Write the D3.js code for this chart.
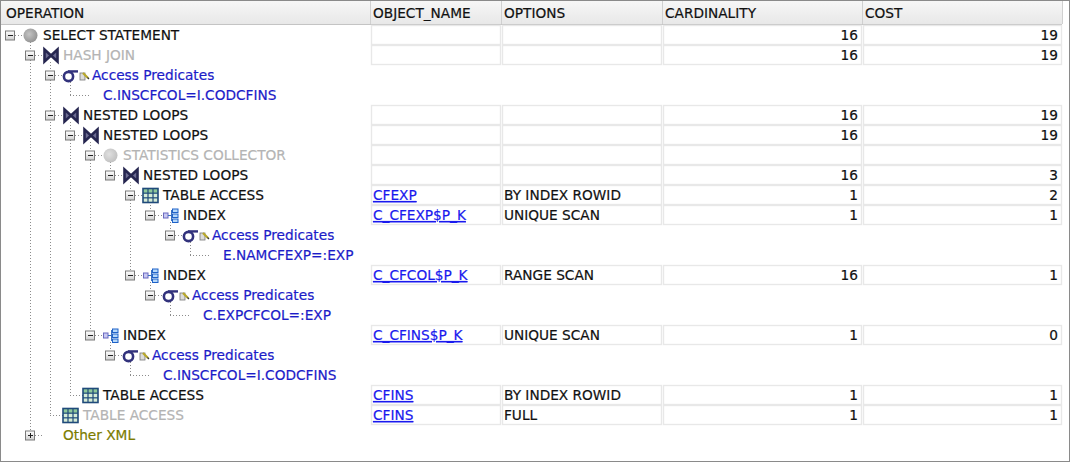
<!DOCTYPE html>
<html>
<head>
<meta charset="utf-8">
<script src="https://cdn.jsdelivr.net/npm/d3@7/dist/d3.min.js"></script>
<style>
  body { margin: 0; background: #fff; }
  svg text { font-family: "DejaVu Sans", sans-serif; font-size: 13.7px; stroke-width: 0.2px; }
</style>
</head>
<body>
<script>
// plan rows, top to bottom
var operations = ["SELECT STATEMENT", "HASH JOIN", "Access Predicates", "C.INSCFCOL=I.CODCFINS",
    "NESTED LOOPS", "NESTED LOOPS", "STATISTICS COLLECTOR", "NESTED LOOPS", "TABLE ACCESS", "INDEX",
    "Access Predicates", "E.NAMCFEXP=:EXP", "INDEX", "Access Predicates", "C.EXPCFCOL=:EXP",
    "INDEX", "Access Predicates", "C.INSCFCOL=I.CODCFINS", "TABLE ACCESS", "TABLE ACCESS", "Other XML"];
var levels = [0, 1, 2, 3, 2, 3, 4, 5, 6, 7, 8, 9, 6, 7, 8, 4, 5, 6, 3, 2, 1];
// icon kind per row
var icons = ["circle", "join", "sigma", "none", "join", "join", "circle", "join", "table", "index",
    "sigma", "none", "index", "sigma", "none", "index", "sigma", "none", "table", "table", "none"];
// text style per row
var styles = ["plain", "off", "pred", "pred", "plain", "plain", "off", "plain", "plain", "plain",
    "pred", "pred", "plain", "pred", "pred", "plain", "pred", "pred", "plain", "off", "xml"];
// null = row without table cells
var objectNames = ["", "", null, null, "", "", "", "", "CFEXP", "C_CFEXP$P_K", null, null, "C_CFCOL$P_K",
    null, null, "C_CFINS$P_K", null, null, "CFINS", "CFINS", null];
var optionValues = ["", "", null, null, "", "", "", "", "BY INDEX ROWID", "UNIQUE SCAN", null, null, "RANGE SCAN",
    null, null, "UNIQUE SCAN", null, null, "BY INDEX ROWID", "FULL", null];
var cardinality = [16, 16, null, null, 16, 16, "", 16, 1, 1, null, null, 16, null, null, 1, null, null, 1, 1, null];
var cost = [19, 19, null, null, 19, 19, "", 3, 2, 1, null, null, 1, null, null, 0, null, null, 1, 1, null];
var headers = ["OPERATION", "OBJECT_NAME", "OPTIONS", "CARDINALITY", "COST"];

var w = 1071, h = 463;
var colEdges = [0, 370, 501, 662, 862, 1062];
var n = operations.length;

var svg = d3.select("body").append("svg").attr("width", w).attr("height", h);
var defs = svg.append("defs");

var hg = defs.append("linearGradient").attr("id", "hdr").attr("x1", 0).attr("y1", 0).attr("x2", 0).attr("y2", 1);
hg.append("stop").attr("offset", "0").attr("stop-color", "#f7f7f7");
hg.append("stop").attr("offset", "1").attr("stop-color", "#e8e8e8");

var tg = defs.append("linearGradient").attr("id", "tog").attr("x1", 0).attr("y1", 0).attr("x2", 0).attr("y2", 1);
tg.append("stop").attr("offset", "0").attr("stop-color", "#ffffff");
tg.append("stop").attr("offset", "1").attr("stop-color", "#cfcfcf");

var cg = defs.append("radialGradient").attr("id", "ball").attr("cx", "0.4").attr("cy", "0.4").attr("r", "0.6");
cg.append("stop").attr("offset", "0").attr("stop-color", "#c4c4c4");
cg.append("stop").attr("offset", "1").attr("stop-color", "#959595");
var cg2 = defs.append("radialGradient").attr("id", "ballOff").attr("cx", "0.4").attr("cy", "0.4").attr("r", "0.6");
cg2.append("stop").attr("offset", "0").attr("stop-color", "#e0e0e0");
cg2.append("stop").attr("offset", "1").attr("stop-color", "#c2c2c2");

// scales
var yScale = d3.scaleBand().domain(d3.range(n)).range([25, 25 + n * 20]);
var indent = d3.scaleLinear().domain([0, 1]).range([10, 30]);
function cy(i) { return yScale(i) + yScale.bandwidth() / 2; }

// header
svg.append("rect").attr("x", 0).attr("y", 0).attr("width", colEdges[5]).attr("height", 24).attr("fill", "url(#hdr)");
svg.append("line").attr("x1", 0).attr("x2", colEdges[5]).attr("y1", 24.5).attr("y2", 24.5).attr("stroke", "#c4c4c4");
svg.selectAll(".hsep").data(colEdges.slice(1)).enter().append("line")
    .attr("x1", function (d) { return d + 0.5; }).attr("x2", function (d) { return d + 0.5; })
    .attr("y1", 1).attr("y2", 24).attr("stroke", "#d0d0d0");
svg.selectAll(".htext").data(headers).enter().append("text")
    .attr("x", function (d, i) { return colEdges[i] + (i === 0 ? 6 : 3); })
    .attr("y", 18).attr("fill", "#111").attr("stroke", "#111").text(function (d) { return d; });

// table cells
var cols = [objectNames, optionValues, cardinality, cost];
cols.forEach(function (vals, c) {
    var x0 = colEdges[c + 1], x1 = colEdges[c + 2];
    var g = svg.append("g");
    d3.range(n).forEach(function (i) {
        if (vals[i] === null) return;
        g.append("rect").attr("x", x0 + 1.5).attr("y", yScale(i) + 0.5)
            .attr("width", x1 - x0 - 2).attr("height", 19)
            .attr("fill", "#fff").attr("stroke", "#e8e8e8").attr("stroke-width", 1.4);
        if (vals[i] === "") return;
        var col = c === 0 ? "#1a1aee" : "#111";
        var t = g.append("text").attr("y", cy(i) + 5).attr("fill", col).attr("stroke", col).text(vals[i]);
        if (c < 2) {
            t.attr("x", x0 + 3);
            if (c === 0) t.style("text-decoration", "underline");
        } else {
            t.attr("x", x1 - 4).attr("text-anchor", "end");
        }
    });
});

// tree lines
var tree = svg.append("g").attr("stroke", "#8c8c8c").attr("stroke-dasharray", "1,2").attr("fill", "none");
d3.range(n).forEach(function (p) {
    var last = -1;
    for (var j = p + 1; j < n && levels[j] > levels[p]; j++) {
        if (levels[j] === levels[p] + 1) last = j;
    }
    if (last < 0) return;
    var x = indent(levels[p] + 1) + 0.5;
    tree.append("line").attr("x1", x).attr("x2", x).attr("y1", cy(p) + 7).attr("y2", cy(last));
});
var hasKids = d3.range(n).map(function (i) { return i + 1 < n && levels[i + 1] > levels[i] || styles[i] === "xml"; });
d3.range(n).forEach(function (i) {
    var tx = indent(levels[i]);
    var xs = hasKids[i] ? tx + 5 : tx;
    var xe = icons[i] === "none" ? tx + (hasKids[i] ? 13 : 20) : tx + 13;
    tree.append("line").attr("x1", xs).attr("x2", xe).attr("y1", cy(i) + 0.5).attr("y2", cy(i) + 0.5);
});

// toggles
d3.range(n).filter(function (i) { return hasKids[i]; }).forEach(function (i) {
    var tx = indent(levels[i]), y = cy(i);
    var g = svg.append("g");
    g.append("rect").attr("x", tx - 4.5).attr("y", y - 4).attr("width", 9).attr("height", 9)
        .attr("fill", "url(#tog)").attr("stroke", "#7a7a7a");
    g.append("line").attr("x1", tx - 2).attr("x2", tx + 3).attr("y1", y + 0.5).attr("y2", y + 0.5).attr("stroke", "#222");
    if (styles[i] === "xml") {
        g.append("line").attr("x1", tx + 0.5).attr("x2", tx + 0.5).attr("y1", y - 2).attr("y2", y + 3).attr("stroke", "#222");
    }
});

// icons
d3.range(n).forEach(function (i) {
    var tx = indent(levels[i]), y = cy(i), ix = tx + 13;
    var g = svg.append("g");
    if (icons[i] === "circle") {
        g.append("circle").attr("cx", tx + 20.5).attr("cy", y + 0.5).attr("r", 7)
            .attr("fill", styles[i] === "off" ? "url(#ballOff)" : "url(#ball)");
    } else if (icons[i] === "join") {
        g.append("path")
            .attr("d", "M" + (ix + 1.5) + "," + (y - 5.5) + "L" + (ix + 1.5) + "," + (y + 6.5) + "L" + (ix + 14.5) + "," + (y - 5.5) +
                "L" + (ix + 14.5) + "," + (y + 6.5) + "Z")
            .attr("fill", "#6c6c92").attr("stroke", "#262650").attr("stroke-width", 2.6).attr("stroke-linejoin", "miter");
    } else if (icons[i] === "table") {
        var tw = 15, th = 14, x0 = ix, y0 = y - 6.5;
        g.append("rect").attr("x", x0).attr("y", y0).attr("width", tw).attr("height", th).attr("fill", "#d6ecd6");
        g.append("rect").attr("x", x0).attr("y", y0).attr("width", tw).attr("height", th / 3).attr("fill", "#8fc89b");
        [1, 2].forEach(function (k) {
            g.append("line").attr("x1", x0).attr("x2", x0 + tw).attr("y1", y0 + k * th / 3).attr("y2", y0 + k * th / 3)
                .attr("stroke", "#1f4a7a").attr("stroke-width", 1.2);
            g.append("line").attr("y1", y0).attr("y2", y0 + th).attr("x1", x0 + k * tw / 3).attr("x2", x0 + k * tw / 3)
                .attr("stroke", "#1f4a7a").attr("stroke-width", 1.2);
        });
        g.append("rect").attr("x", x0).attr("y", y0).attr("width", tw).attr("height", th)
            .attr("fill", "none").attr("stroke", "#1f4a7a").attr("stroke-width", 1.6);
    } else if (icons[i] === "index") {
        g.append("rect").attr("x", ix + 0.5).attr("y", y - 2).attr("width", 4.5).attr("height", 5)
            .attr("fill", "#c9c9f2").attr("stroke", "#6b6bc0");
        g.append("line").attr("x1", ix + 5).attr("x2", ix + 9).attr("y1", y + 0.5).attr("y2", y + 0.5).attr("stroke", "#3a6fc0");
        g.append("line").attr("x1", ix + 8.5).attr("x2", ix + 8.5).attr("y1", y - 5).attr("y2", y + 6).attr("stroke", "#3a6fc0");
        [-6, -1, 4].forEach(function (d) {
            g.append("rect").attr("x", ix + 9.5).attr("y", y + d).attr("width", 5.5).attr("height", 3.5)
                .attr("fill", "#b6d8fa").attr("stroke", "#1e62c8").attr("stroke-width", 1);
        });
    } else if (icons[i] === "sigma") {
        g.append("circle").attr("cx", ix + 5.5).attr("cy", y + 1.5).attr("r", 4.6)
            .attr("fill", "none").attr("stroke", "#32327c").attr("stroke-width", 2.6);
        g.append("path").attr("d", "M" + (ix + 5) + "," + (y - 3.6) + "L" + (ix + 15) + "," + (y - 3.6))
            .attr("stroke", "#32327c").attr("stroke-width", 2.4);
        g.append("rect").attr("x", ix + 17).attr("y", y - 2).attr("width", 5).attr("height", 7)
            .attr("fill", "#dcdcdc").attr("stroke", "#777").attr("stroke-width", 0.8);
        g.append("line").attr("x1", ix + 20).attr("y1", y - 2).attr("x2", ix + 25).attr("y2", y + 3)
            .attr("stroke", "#b8a82a").attr("stroke-width", 2.2);
        g.append("line").attr("x1", ix + 24.5).attr("y1", y + 2.5).attr("x2", ix + 26).attr("y2", y + 4)
            .attr("stroke", "#333").attr("stroke-width", 1.2);
    }
});

// operation labels
var colors = { plain: "#111", off: "#b4b4b4", pred: "#1c1cc8", xml: "#7c7c00" };
svg.selectAll(".op").data(operations).enter().append("text")
    .attr("x", function (d, i) { return indent(levels[i]) + (icons[i] === "sigma" ? 42 : 33); })
    .attr("y", function (d, i) { return cy(i) + 5; })
    .attr("fill", function (d, i) { return colors[styles[i]]; })
    .attr("stroke", function (d, i) { return colors[styles[i]]; })
    .text(function (d) { return d; });

// frame
svg.append("rect").attr("x", 0.5).attr("y", 0.5).attr("width", 1069).attr("height", 461)
    .attr("fill", "none").attr("stroke", "#8a8a8a");
</script>
</body>
</html>
